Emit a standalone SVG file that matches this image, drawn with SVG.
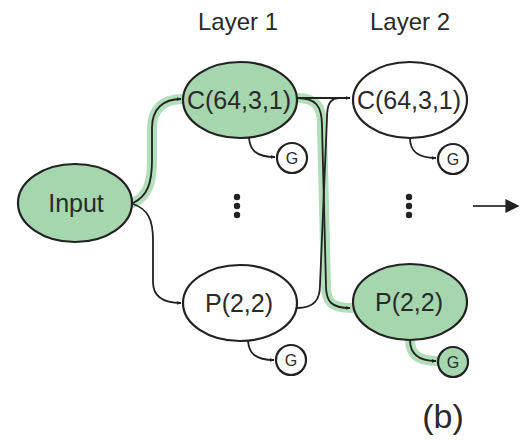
<svg xmlns="http://www.w3.org/2000/svg" width="522" height="441" viewBox="0 0 522 441">
<defs>
<style>
.node{stroke:#222;stroke-width:2.2}
.g{fill:#a5d6ad}
.w{fill:#fff}
.t{font-family:"Liberation Sans",Arial,sans-serif;fill:#2a2a2a;text-anchor:middle}
.lbl{font-size:25px}
.gt{font-size:16px}
.c{fill:none;stroke:#222;stroke-width:1.8}
.glow{fill:none;stroke:#a5d9ae;stroke-width:10;stroke-linecap:round;stroke-linejoin:round;opacity:0.85}
.fade{fill:none;stroke:#555;stroke-width:1.8}
</style>
<marker id="ah" viewBox="0 0 10 10" refX="9" refY="5" markerWidth="5" markerHeight="5" orient="auto" markerUnits="userSpaceOnUse">
<path d="M0,1 L10,5 L0,9 z" fill="#222"/>
</marker>
<marker id="big" viewBox="0 0 10 10" refX="9" refY="5" markerWidth="14" markerHeight="14" orient="auto" markerUnits="userSpaceOnUse">
<path d="M0,0 L10,5 L0,10 z" fill="#222"/>
</marker>
<linearGradient id="fadeR" x1="0" x2="1" y1="0" y2="0">
<stop offset="0" stop-color="#444"/>
<stop offset="1" stop-color="#bbb"/>
</linearGradient>
</defs>
<rect width="522" height="441" fill="#fff"/>

<g id="labels">
<text class="t" x="238" y="30" font-size="24">Layer 1</text>
<text class="t" x="410" y="30" font-size="24">Layer 2</text>
<text class="t" x="443" y="428" font-size="34">(b)</text>
</g>

<g id="connectors">
<!-- glows -->
<path class="glow" d="M133,203 C148,196 152,182 152,160 L152,128 C152,108 164,99 183,99"/>
<path class="glow" d="M297,98 C316,98 322,106 322,126 L326,286 C326,302 332,308 352,308"/>
<path class="glow" d="M410,340 C410,352 416,361 436,361"/>

<path class="c" d="M133,203 C148,196 152,182 152,160 L152,128 C152,108 164,99 181,99" marker-end="url(#ah)"/>
<path class="c" d="M133,204 C148,209 153,220 153,240 L153,282 C153,297 164,303 181,303" marker-end="url(#ah)"/>
<path d="M133,203 L204,203" stroke="url(#fadeR)" stroke-width="1.8" fill="none"/>

<path class="c" d="M297,98 L350,98" marker-end="url(#ah)"/>
<path class="c" d="M297,98 C316,98 322,106 322,126 L326,286 C326,302 332,308 350,308" marker-end="url(#ah)"/>
<path class="c" d="M297,308 C314,308 320,300 320,285 L327,118 C327,104 330,98 340,98"/>

<path class="c" d="M249,138 C250,150 256,157 275,157" marker-end="url(#ah)"/>
<path class="c" d="M248,341 C249,353 255,360 274,360" marker-end="url(#ah)"/>
<path class="c" d="M410,138 C410,150 416,158 436,158" marker-end="url(#ah)"/>
<path class="c" d="M410,340 C410,352 416,361 436,361" marker-end="url(#ah)"/>

<path d="M467,98 L496,98" stroke="url(#fadeR)" stroke-width="1.8" fill="none"/>
<path d="M467,302 L496,302" stroke="url(#fadeR)" stroke-width="1.8" fill="none"/>
<path d="M473,206 L518,206" stroke="#444" stroke-width="2.2" fill="none" marker-end="url(#big)"/>
</g>

<g id="input">
<ellipse class="node g" cx="75" cy="203" rx="57" ry="39"/>
<text class="t lbl" x="76" y="212">Input</text>
</g>

<g id="c1">
<ellipse class="node g" cx="240" cy="100" rx="57" ry="38"/>
<text class="t lbl" x="239" y="109">C(64,3,1)</text>
</g>
<g id="g1">
<circle class="node w" cx="292" cy="158" r="15"/>
<text class="t gt" x="292" y="164">G</text>
</g>

<g id="dots1">
<circle cx="237" cy="197" r="3.2" fill="#222"/>
<circle cx="237" cy="206" r="3.2" fill="#222"/>
<circle cx="237" cy="215" r="3.2" fill="#222"/>
</g>

<g id="p1">
<ellipse class="node w" cx="240" cy="303" rx="57" ry="38"/>
<text class="t lbl" x="239" y="312">P(2,2)</text>
</g>
<g id="g2">
<circle class="node w" cx="291" cy="360" r="15"/>
<text class="t gt" x="291" y="366">G</text>
</g>

<g id="c2">
<ellipse class="node w" cx="410" cy="100" rx="57" ry="38"/>
<text class="t lbl" x="409" y="109">C(64,3,1)</text>
</g>
<g id="g3">
<circle class="node w" cx="453" cy="159" r="15"/>
<text class="t gt" x="453" y="165">G</text>
</g>

<g id="dots2">
<circle cx="409" cy="197" r="3.2" fill="#222"/>
<circle cx="409" cy="206" r="3.2" fill="#222"/>
<circle cx="409" cy="215" r="3.2" fill="#222"/>
</g>

<g id="p2">
<ellipse class="node g" cx="410" cy="302" rx="57" ry="38"/>
<text class="t lbl" x="409" y="311">P(2,2)</text>
</g>
<g id="g4">
<circle class="node g" cx="453" cy="362" r="15"/>
<text class="t gt" x="453" y="368">G</text>
</g>
</svg>
